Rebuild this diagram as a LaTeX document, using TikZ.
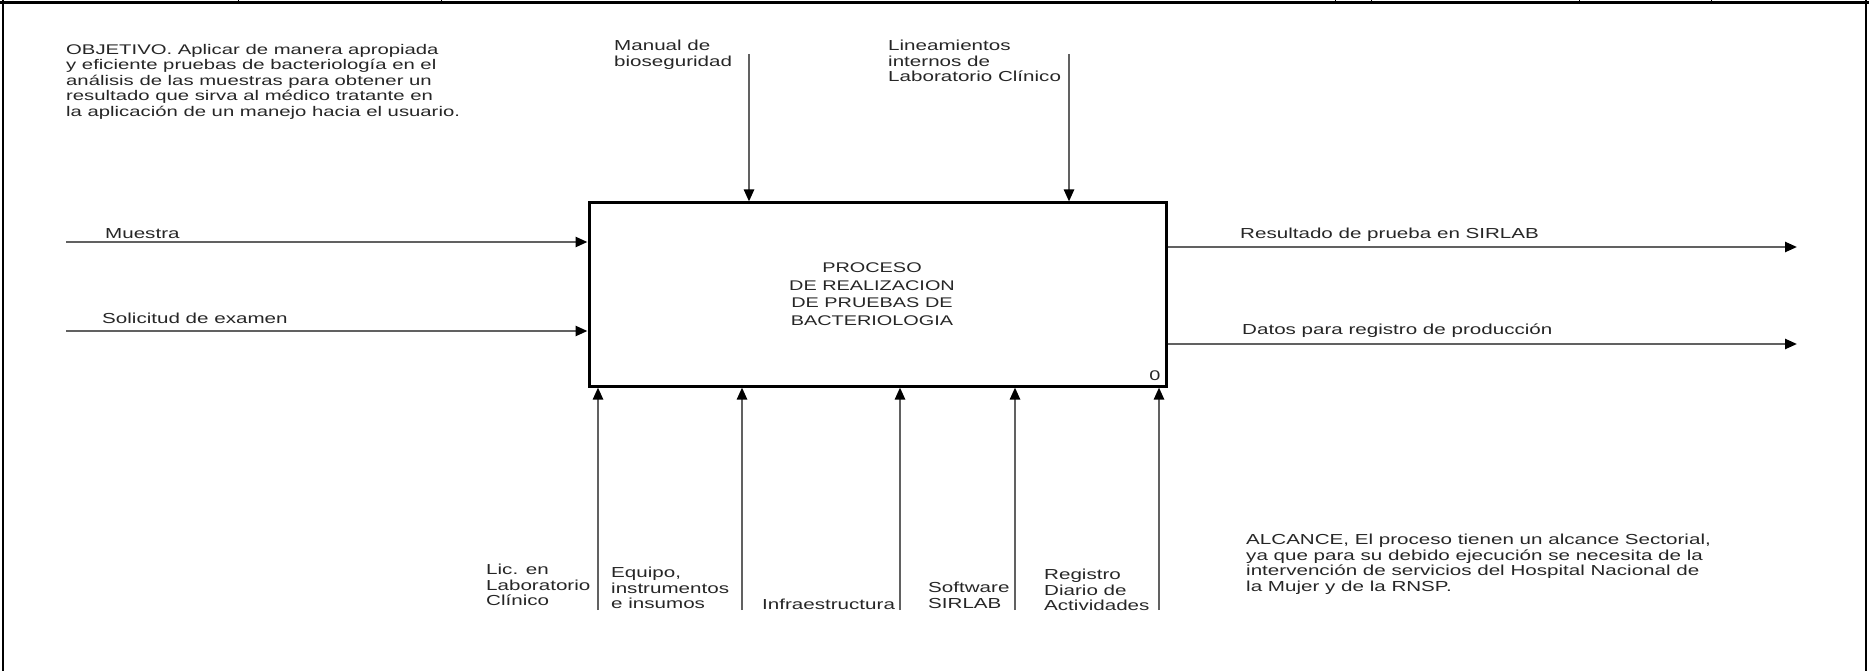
\documentclass[tikz,border=0pt]{standalone}
\usepackage{fontspec}
\setmainfont{Liberation Sans}
\newfontfamily\lblfont{Liberation Sans}[FakeStretch=1.42]
\newfontfamily\objfont{Liberation Sans}[FakeStretch=1.45]
\usetikzlibrary{arrows.meta}
\begin{document}
\begin{tikzpicture}[x=1pt,y=-1pt,
  lbl/.style={inner sep=0pt, anchor=north west, align=left, text=black!85,
    font=\lblfont\fontsize{14.5}{15.5}\selectfont},
  objtext/.style={inner sep=0pt, anchor=north west, align=left, text=black!85,
    font=\objfont\fontsize{14}{15.5}\selectfont},
  flow/.style={draw=black!62, line width=2.4pt,
    -{Triangle[length=12pt,width=10pt,color=black]}},
  procbox/.style={draw=black, line width=3pt, minimum width=577pt, minimum height=183pt,
    inner sep=0pt, align=center, text=black!85,
    font=\lblfont\fontsize{14}{17.5}\selectfont},
  frame/.style={draw=black, line width=1.5pt},
  topframe/.style={draw=black, line width=3pt},
  tick/.style={draw=black, line width=1pt}]
\useasboundingbox (0,0) rectangle (1869,671);

% outer frame
\coordinate (fl) at (3,0);
\coordinate (fr) at (1866,0);
\coordinate (flb) at (3,671);
\coordinate (frb) at (1866,671);
\draw[topframe] (0,2.5) -- (1869,2.5);
\draw[frame] (fl) -- (flb);
\draw[frame] (fr) -- (frb);
\foreach \tx in {238,441,1335,1371,1579,1711}{
  \draw[tick] (\tx,0) -- (\tx,3);
}

% process box
\node[procbox] (p) at (877.5,294.5) {};
\node[inner sep=0pt, anchor=north, align=center, text=black!85,
  font=\lblfont\fontsize{14}{17.5}\selectfont] (ptext) at (872,263)
  {PROCESO\\DE REALIZACION\\DE PRUEBAS DE\\BACTERIOLOGIA};
\node[inner sep=0pt, text=black!85, font=\lblfont\fontsize{14}{15}\selectfont] (zero) at (1155,376) {0};

% objective
\node[objtext] (obj) at (66,44) {OBJETIVO. Aplicar de manera apropiada\\
y eficiente pruebas de bacteriología en el\\
análisis de las muestras para obtener un\\
resultado que sirva al médico tratante en\\
la aplicación de un manejo hacia el usuario.};

% controls (top)
\node[lbl] (lman) at (614,40) {Manual de\\bioseguridad};
\node[lbl] (llin) at (888,40) {Lineamientos\\internos de\\Laboratorio Clínico};
\coordinate (c1) at (749,54);
\coordinate (c2) at (1069,54);
\draw[flow] (c1) -- (c1 |- p.north);
\draw[flow] (c2) -- (c2 |- p.north);

% inputs
\node[lbl] (lmue) at (105,228) {Muestra};
\node[lbl] (lsol) at (102,313) {Solicitud de examen};
\coordinate (i1) at (66,242);
\coordinate (i2) at (66,331);
\draw[flow] (i1) -- (i1 -| p.west);
\draw[flow] (i2) -- (i2 -| p.west);

% outputs
\node[lbl] (lres) at (1240,228) {Resultado de prueba en SIRLAB};
\node[lbl] (ldat) at (1242,324) {Datos para registro de producción};
\coordinate (o1) at (1797,247);
\coordinate (o2) at (1797,344);
\draw[flow] (o1 -| p.east) -- (o1);
\draw[flow] (o2 -| p.east) -- (o2);

% mechanisms (bottom), clipped as in the original
\begin{scope}
\clip (0,0) rectangle (1869,610);
\node[lbl] (llic) at (486,564) {Lic. en\\Laboratorio\\Clínico};
\node[lbl] (lequ) at (611,567) {Equipo,\\instrumentos\\e insumos};
\node[lbl] (linf) at (762,599) {Infraestructura};
\node[lbl] (lsof) at (928,582) {Software\\SIRLAB};
\node[lbl] (lreg) at (1044,569) {Registro\\Diario de\\Actividades};
\end{scope}
\coordinate (k1) at (598,610);
\coordinate (k2) at (742,610);
\coordinate (k3) at (900,610);
\coordinate (k4) at (1015,610);
\coordinate (k5) at (1159,610);
\foreach \k in {k1,k2,k3,k4,k5}{
  \draw[flow] (\k) -- (\k |- p.south);
}

% scope
\node[lbl] (alc) at (1246,534)
{ALCANCE, El proceso tienen un alcance Sectorial,\\
ya que para su debido ejecución se necesita de la\\
intervención de servicios del Hospital Nacional de\\
la Mujer y de la RNSP.};
\end{tikzpicture}
\end{document}
